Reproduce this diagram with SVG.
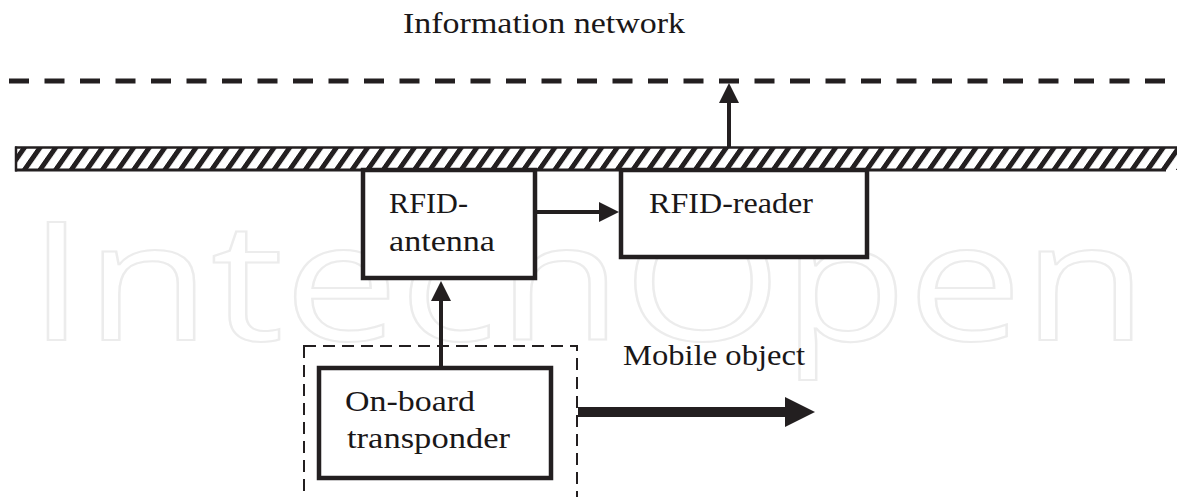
<svg xmlns="http://www.w3.org/2000/svg" width="1177" height="497" viewBox="0 0 1177 497">
  <style>
    .lbl { font-family: "Liberation Serif", "Times New Roman", Times, serif; font-size: 29px; fill: #1a1718; }
    .box { fill: #ffffff; stroke: #231f20; stroke-width: 4.5; }
    .conn { stroke: #231f20; stroke-width: 4; fill: none; }
    .wm { font-family: "Open Sans", "Liberation Sans", sans-serif; font-size: 165px; fill: none; stroke: #ececec; stroke-width: 2; }
  </style>
  <defs>
    <pattern id="hatch" patternUnits="userSpaceOnUse" width="15.6" height="24" patternTransform="skewX(-35)">
      <rect x="0" y="0" width="15.6" height="24" fill="#ffffff"/>
      <rect x="0" y="0" width="6" height="24" fill="#231f20"/>
    </pattern>
    <marker id="ah" markerUnits="userSpaceOnUse" markerWidth="20" markerHeight="20" refX="1" refY="10" orient="auto">
      <path d="M0,0 L20,10 L0,20 Z" fill="#231f20"/>
    </marker>
    <marker id="ahBig" markerUnits="userSpaceOnUse" markerWidth="30" markerHeight="30" refX="1" refY="15" orient="auto">
      <path d="M0,0 L30,15 L0,30 Z" fill="#231f20"/>
    </marker>
  </defs>
  <rect width="1177" height="497" fill="#ffffff"/>

  <!-- watermark -->
  <text class="wm" x="28" y="340" textLength="1120" lengthAdjust="spacingAndGlyphs">IntechOpen</text>

  <!-- information network -->
  <g id="network">
    <text class="lbl" font-family="Liberation Serif, serif" x="403" y="33" textLength="282" lengthAdjust="spacingAndGlyphs">Information network</text>
    <line x1="9" y1="81" x2="1170" y2="81" stroke="#231f20" stroke-width="5" stroke-dasharray="20 15.5"/>
  </g>

  <!-- hatched bar -->
  <g id="bar">
    <rect x="16" y="148" width="1170" height="22" fill="url(#hatch)"/>
    <line x1="15" y1="147.5" x2="1177" y2="147.5" stroke="#231f20" stroke-width="2.5"/>
    <line x1="15" y1="170" x2="1166" y2="170" stroke="#231f20" stroke-width="3"/>
    <line x1="16" y1="146.5" x2="16" y2="171.5" stroke="#231f20" stroke-width="2.5"/>
  </g>

  <g id="antenna">
    <rect class="box" x="363" y="170" width="172" height="108"/>
    <text class="lbl" x="389" y="213" textLength="79" lengthAdjust="spacingAndGlyphs">RFID-</text>
    <text class="lbl" x="389" y="251" textLength="106" lengthAdjust="spacingAndGlyphs">antenna</text>
  </g>

  <g id="reader">
    <rect class="box" x="621" y="170" width="246" height="87"/>
    <text class="lbl" x="649" y="213" textLength="164" lengthAdjust="spacingAndGlyphs">RFID-reader</text>
  </g>

  <g id="mobile">
    <rect x="304" y="346" width="273" height="170" fill="none" stroke="#231f20" stroke-width="2" stroke-dasharray="12 7"/>
    <text class="lbl" x="623" y="365" textLength="182" lengthAdjust="spacingAndGlyphs">Mobile object</text>
  </g>

  <g id="transponder">
    <rect class="box" x="319" y="368" width="232" height="110"/>
    <text class="lbl" x="345" y="411" textLength="130" lengthAdjust="spacingAndGlyphs">On-board</text>
    <text class="lbl" x="347" y="448" textLength="163" lengthAdjust="spacingAndGlyphs">transponder</text>
  </g>

  <g id="connectors">
    <line class="conn" x1="729" y1="147" x2="729" y2="102" marker-end="url(#ah)"/>
    <line class="conn" x1="537" y1="212" x2="600" y2="212" marker-end="url(#ah)"/>
    <line class="conn" x1="441" y1="366" x2="441" y2="300" marker-end="url(#ah)"/>
    <line x1="578" y1="412" x2="786" y2="412" stroke="#231f20" stroke-width="10" marker-end="url(#ahBig)"/>
  </g>
</svg>
